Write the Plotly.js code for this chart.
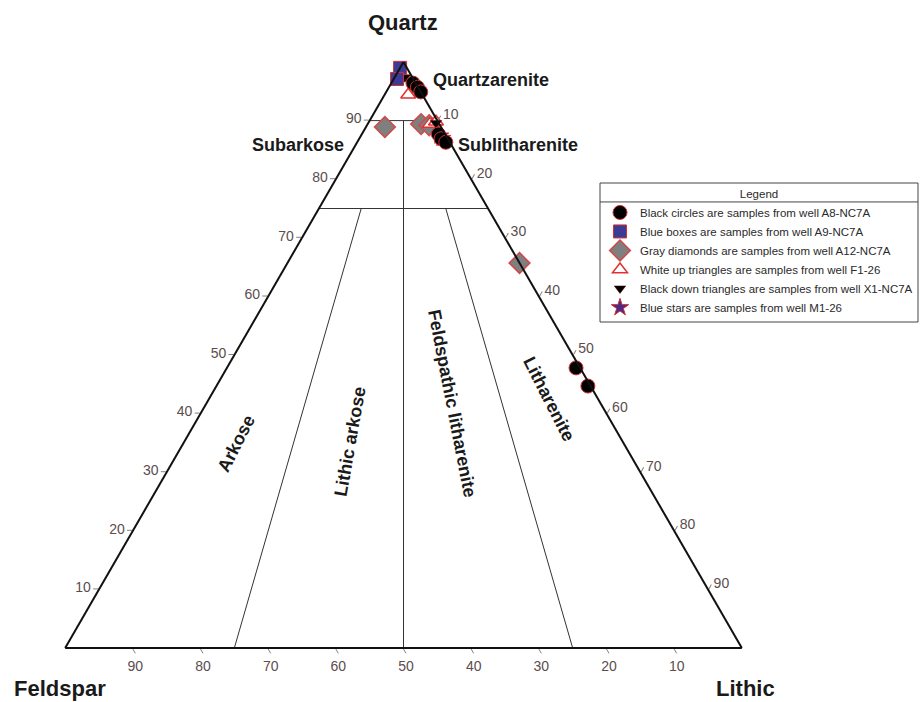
<!DOCTYPE html>
<html>
<head>
<meta charset="utf-8">
<script src="https://cdn.plot.ly/plotly-3.0.1.min.js"></script>
<style>html,body{margin:0;padding:0;background:#fff;}#chart{width:921px;height:702px;}</style>
</head>
<body>
<div id="chart"></div>
<script>
// ---- Data: [Quartz, Feldspar, Lithic] percentages ----
var seriesNames = [
  "Black circles are samples from well A8-NC7A",
  "Blue boxes are samples from well A9-NC7A",
  "Gray diamonds are samples from well A12-NC7A",
  "White up triangles are samples from well F1-26",
  "Black down triangles are samples from well X1-NC7A",
  "Blue stars are samples from well M1-26"
];
var circlesQ = [96.4, 95.7, 94.9, 87.7, 86.9, 86.3, 47.8, 44.7];
var circlesF = [0.4, 0.1, 0.0, 1.0, 1.0, 0.6, 0.6, 0.4];
var circlesL = [3.2, 4.2, 5.1, 11.3, 12.1, 13.1, 51.6, 54.9];

var boxesQ = [99.0, 97.1];
var boxesF = [1.0, 2.4];
var boxesL = [0.0, 0.5];

var diamondsQ = [88.9, 89.4, 89.2, 65.7];
var diamondsF = [8.3, 2.7, 1.6, 0.0];
var diamondsL = [2.8, 7.9, 9.2, 34.3];

var upTriQ = [94.4, 89.4, 89.8];
var upTriF = [2.1, 1.4, 0.3];
var upTriL = [3.5, 9.2, 9.9];

var downTriQ = [97.4, 96.6, 89.6];
var downTriF = [1.1, 0.7, 0.4];
var downTriL = [1.5, 2.7, 10.0];

var starsQ = [87.4, 87.0];
var starsF = [0.9, 0.8];
var starsL = [11.7, 12.2];

// Folk classification boundaries (Q, F, L at each end)
var boundaryQ = [[90, 90], [75, 75], [90, 0], [75, 0], [75, 0]];
var boundaryF = [[10, 0], [25, 0], [5, 50], [18.75, 75], [6.25, 25]];
var boundaryL = [[0, 10], [0, 25], [5, 50], [6.25, 25], [18.75, 75]];

var tickValues = [10, 20, 30, 40, 50, 60, 70, 80, 90];

// region labels: [text, px, py, angle]
var regionLabels = [
  ["Quartzarenite", 491, 80, 0],
  ["Subarkose", 298, 145, 0],
  ["Sublitharenite", 518, 145, 0],
  ["Arkose", 236, 444, -63],
  ["Lithic arkose", 350, 442, -80],
  ["Feldspathic litharenite", 452, 403, 79],
  ["Litharenite", 549, 399, 63]
];
var cornerLabels = [["Quartz", 403, 22], ["Feldspar", 60, 688], ["Lithic", 745, 688]];

// ---- Layout helpers ----
var M = {l: 65, r: 179, t: 62, b: 54};
var PW = 921 - M.l - M.r, PH = 702 - M.t - M.b;
function px(x) { return (x - M.l) / PW; }
function py(y) { return (702 - M.b - y) / PH; }

var FONT = '"Liberation Sans", Arial, sans-serif';
var traces = [];

for (var i = 0; i < boundaryQ.length; i++) {
  traces.push({
    type: 'scatterternary', mode: 'lines',
    a: boundaryQ[i], b: boundaryF[i], c: boundaryL[i],
    line: {color: '#333', width: 1},
    showlegend: false, hoverinfo: 'skip'
  });
}

function pts(name, Q, F, L, marker, rank) {
  return {
    type: 'scatterternary', mode: 'markers', name: name,
    a: Q, b: F, c: L, marker: marker, legendrank: rank,
    cliponaxis: false
  };
}
// drawing order (bottom to top), legend order via legendrank
traces.push(pts(seriesNames[5], starsQ, starsF, starsL,
  {symbol: 'star', size: 13, color: '#4b2a8a', line: {color: '#d03030', width: 1}}, 6));
traces.push(pts(seriesNames[2], diamondsQ, diamondsF, diamondsL,
  {symbol: 'diamond', size: 16, color: '#7f7f7f', line: {color: '#d04848', width: 1.5}}, 3));
traces.push(pts(seriesNames[3], upTriQ, upTriF, upTriL,
  {symbol: 'triangle-up', size: 13, color: '#ffffff', line: {color: '#e03030', width: 1.5}}, 4));
traces.push(pts(seriesNames[4], downTriQ, downTriF, downTriL,
  {symbol: 'triangle-down', size: 10, color: '#000000', line: {color: '#600', width: 0.5}}, 5));
traces.push(pts(seriesNames[0], circlesQ, circlesF, circlesL,
  {symbol: 'circle', size: 14, color: '#000000', line: {color: '#d03030', width: 1}}, 1));
traces.push(pts(seriesNames[1], boxesQ, boxesF, boxesL,
  {symbol: 'square', size: 13, color: '#3b3b96', line: {color: '#d03030', width: 1}}, 2));

function axis() {
  return {
    title: {text: ''},
    min: 0,
    showgrid: false,
    showline: true, linecolor: '#111', linewidth: 2,
    ticks: 'outside', ticklen: 5, tickwidth: 1, tickcolor: '#8a8080',
    tickmode: 'array', tickvals: tickValues,
    tickfont: {family: FONT, size: 14, color: '#5b4d4d'}
  };
}

var annotations = [];
regionLabels.forEach(function (r) {
  annotations.push({
    xref: 'paper', yref: 'paper', x: px(r[1]), y: py(r[2]),
    text: '<b>' + r[0] + '</b>', showarrow: false, textangle: r[3],
    xanchor: 'center', yanchor: 'middle',
    font: {family: FONT, size: 18, color: '#1a1a1a'}
  });
});
cornerLabels.forEach(function (r) {
  annotations.push({
    xref: 'paper', yref: 'paper', x: px(r[1]), y: py(r[2]),
    text: '<b>' + r[0] + '</b>', showarrow: false,
    xanchor: 'center', yanchor: 'middle', borderpad: 0,
    font: {family: FONT, size: 22, color: '#1a1a1a'}
  });
});

// legend frame (drawn as shapes so the title divider can be shown)
var LEG = {x0: 599, x1: 918, y0: 183, y1: 323, div: 202};
function legendShapes(g) {
  return [
    {type: 'rect', xref: 'paper', yref: 'paper', layer: 'above',
     x0: px(g.x0), x1: px(g.x1), y0: py(g.y0), y1: py(g.y1),
     fillcolor: 'rgba(255,255,255,0)', line: {color: '#444', width: 1}},
    {type: 'line', xref: 'paper', yref: 'paper', layer: 'above',
     x0: px(g.x0), x1: px(g.x1), y0: py(g.div), y1: py(g.div),
     line: {color: '#444', width: 1}}
  ];
}

var layout = {
  width: 921, height: 702,
  margin: {l: M.l, r: M.r, t: M.t, b: M.b, autoexpand: false},
  paper_bgcolor: '#ffffff',
  showlegend: true,
  ternary: {
    sum: 100,
    domain: {x: [0, 1], y: [0, 1]},
    bgcolor: '#ffffff',
    aaxis: axis(), baxis: axis(), caxis: axis()
  },
  legend: {
    x: px(918), xanchor: 'right', y: py(183), yanchor: 'top',
    bgcolor: 'rgba(255,255,255,0)', borderwidth: 0,
    font: {family: FONT, size: 11.5, color: '#2a2a2a'},
    title: {text: 'Legend', side: 'top center', font: {family: FONT, size: 11.5, color: '#2a2a2a'}},
    itemwidth: 30, tracegroupgap: 0
  },
  shapes: legendShapes(LEG),
  annotations: annotations
};

Plotly.newPlot('chart', traces, layout, {displayModeBar: false, staticPlot: true}).then(function (gd) {
  var bg = gd.querySelector('.legend .bg');
  var title = gd.querySelector('.legend .legendtitletext');
  if (bg) {
    var b = bg.getBoundingClientRect();
    var g = {x0: b.left, x1: b.right, y0: b.top, y1: b.bottom, div: LEG.div};
    if (title) {
      var t = title.getBoundingClientRect();
      g.div = t.bottom + 2;
    }
    Plotly.relayout(gd, {shapes: legendShapes(g)});
  }
});
</script>
</body>
</html>
